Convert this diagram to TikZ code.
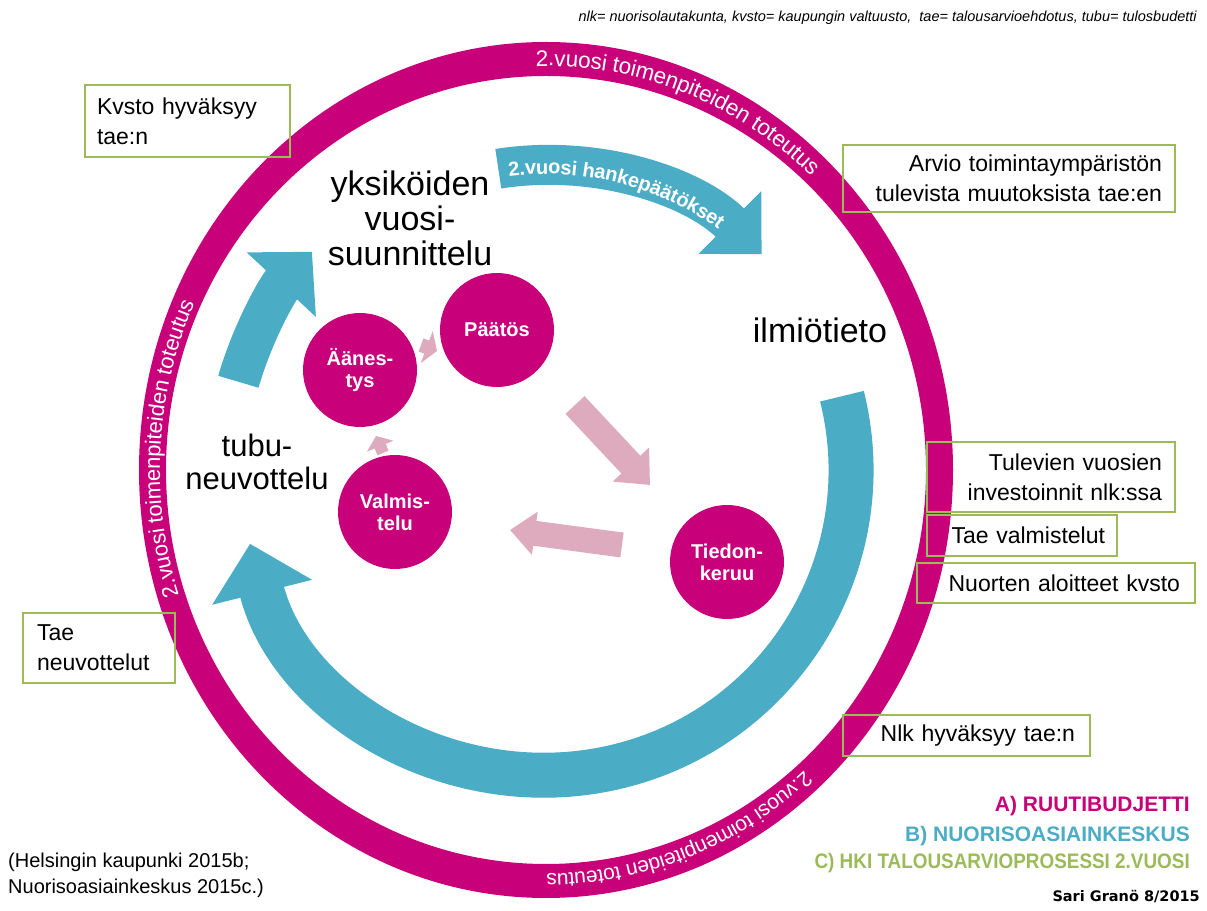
\documentclass[tikz,border=0pt]{standalone}
\usepackage{fontspec}
\setmainfont{Liberation Sans}
\newfontfamily\signfont{DejaVu Sans}
\usetikzlibrary{arrows.meta,decorations.text}

\definecolor{ruutimag}{RGB}{200,0,122}
\definecolor{nuoteal}{RGB}{75,172,198}
\definecolor{hkigreen}{RGB}{155,187,89}
\definecolor{cyclepink}{RGB}{221,170,190}

\tikzset{
  stage/.style={circle, fill=ruutimag, minimum size=114pt, inner sep=0pt, text=white, align=center, font=\fontsize{20}{22}\selectfont\bfseries},
  notebox/.style={draw=hkigreen, line width=2pt, inner sep=0pt, font=\fontsize{23}{30}\selectfont},
  phase/.style={align=center, font=\fontsize{34}{35}\selectfont},
  tealband/.style={nuoteal, line width=#1},
  cyclearrow/.style={cyclepink, line width=#1},
  ringtext/.style 2 args={decorate, decoration={text along path, text color=white, raise=-7pt, text={|\fontsize{#1}{#1}\selectfont|#2}}},
}

\begin{document}
\begin{tikzpicture}[x=1pt, y=1pt]
        \useasboundingbox (0,0) rectangle (1207,910);
        \coordinate (c) at (546,440);

        \fill[ruutimag, even odd rule] (c) ellipse [x radius=407, y radius=428] (c) ellipse [x radius=380, y radius=394];

        \path[ringtext={22.5}{2.vuosi toimenpiteiden toteutus}] (c) ++(91.5:393 and 411) arc[start angle=91.5, end angle=35, x radius=393, y radius=411];
        \path[ringtext={22}{2.vuosi toimenpiteiden toteutus}] (c) ++(198:393 and 411) arc[start angle=198, end angle=140, x radius=393, y radius=411];
        \path[ringtext={21}{2.vuosi toimenpiteiden toteutus}] (c) ++(-48:393 and 411) arc[start angle=-48, end angle=-110, x radius=393, y radius=411];

        % teal arrows of the yearly cycle
        \draw[tealband=45pt, -{Triangle[width=100pt,length=50pt]}] (c) ++(14:305) arc[start angle=14, end angle=-166, radius=305];
        \draw[tealband=42pt, -{Triangle[width=92pt,length=45pt]}] (c) ++(164:320) arc[start angle=164, end angle=137, radius=320];
        \draw[tealband=40pt, -{Triangle[width=86pt,length=45pt]}] (c) ++(99:305) arc[start angle=99, end angle=45, radius=305];
        \path[decorate, decoration={text along path, text align=center, text color=white, raise=-6pt, text={|\fontsize{20}{20}\selectfont\bfseries|2.vuosi hankepäätökset}}] (c) ++(98.5:302) arc[start angle=98.5, end angle=53, radius=302];

        \node[phase] (vuosisuunn) at (410,692) {yksiköiden\\vuosi-\\suunnittelu};
        \node[phase] (ilmio) at (820,580) {ilmiötieto};
        \node[phase, font=\fontsize{31}{33}\selectfont] (tubu) at (257,448) {tubu-\\neuvottelu};

        % ruutibudjetti cycle
        \node[stage] (paatos) at (497,580) {Päätös};
        \node[stage] (aanestys) at (360,540) {Äänes-\\tys};
        \node[stage] (valmistelu) at (395,398) {Valmis-\\telu};
        \node[stage] (tiedonkeruu) at (727,348) {Tiedon-\\keruu};

        \coordinate (pt1) at (575,505);
        \coordinate (pt2) at (650,425);
        \coordinate (tv1) at (622,365);
        \coordinate (tv2) at (510,380);
        \coordinate (va1) at (383,457);
        \coordinate (va2) at (376,474);
        \coordinate (ap1) at (421,565);
        \coordinate (ap2) at (437,559);
        \draw[cyclearrow=26pt, -{Triangle[width=48pt,length=28pt]}] (pt1) -- (pt2);
        \draw[cyclearrow=25pt, -{Triangle[width=42pt,length=25pt]}] (tv1) -- (tv2);
        \draw[cyclearrow=12pt, -{Triangle[width=28pt,length=11pt]}] (va1) -- (va2);
        \draw[cyclearrow=14pt, -{Triangle[width=34pt,length=11pt]}] (ap1) -- (ap2);

        % green note boxes
        \node[notebox, minimum width=205pt, minimum height=72pt, text width=181pt, align=left] (kvsto) at (187.5,789) {Kvsto hyväksyy\\tae:n};
        \node[notebox, minimum width=332pt, minimum height=67pt, text width=306pt, align=right] (arvio) at (1009,731.5) {Arvio toimintaympäristön\\tulevista muutoksista tae:en};
        \node[notebox, minimum width=248pt, minimum height=70pt, text width=222pt, align=right] (tulevat) at (1051,433) {Tulevien vuosien\\investoinnit nlk:ssa};
        \node[notebox, minimum width=190pt, minimum height=41pt, text width=166pt, align=right] (taevalm) at (1022,374.5) {Tae valmistelut};
        \node[notebox, minimum width=278pt, minimum height=40pt, text width=248pt, align=right] (aloitteet) at (1056,327) {Nuorten aloitteet kvsto};
        \node[notebox, minimum width=152pt, minimum height=70pt, text width=124pt, align=left] (taeneuv) at (99,262) {Tae\\neuvottelut};
        \node[notebox, minimum width=247pt, minimum height=41pt, text width=217pt, align=right] (nlkhyv) at (966.5,174.5) {Nlk hyväksyy tae:n};

        \node[anchor=east, inner sep=0pt, font=\fontsize{14.5}{16}\selectfont\itshape] (lyhenteet) at (1197,892) {nlk= nuorisolautakunta, kvsto= kaupungin valtuusto,\ \ tae= talousarvioehdotus, tubu= tulosbudetti};

        \node[anchor=east, inner sep=0pt, text=ruutimag, font=\fontsize{21}{21}\selectfont\bfseries] (legA) at (1190,104) {A) RUUTIBUDJETTI};
        \node[anchor=east, inner sep=0pt, text=nuoteal, font=\fontsize{21}{21}\selectfont\bfseries] (legB) at (1190,74) {B) NUORISOASIAINKESKUS};
        \node[anchor=east, inner sep=0pt, text=hkigreen, font=\fontsize{21}{21}\selectfont\bfseries] (legC) at (1190,47) {\scalebox{0.9}[1]{C) HKI TALOUSARVIOPROSESSI 2.VUOSI}};
        \node[anchor=east, inner sep=0pt, font=\fontsize{14.5}{15}\signfont\bfseries] (tekija) at (1200,13) {Sari Granö 8/2015};

        \node[anchor=west, inner sep=0pt, align=left, font=\fontsize{20}{26}\selectfont] (lahteet) at (8,35) {(Helsingin kaupunki 2015b;\\Nuorisoasiainkeskus 2015c.)};
    \end{tikzpicture}
\end{document}
